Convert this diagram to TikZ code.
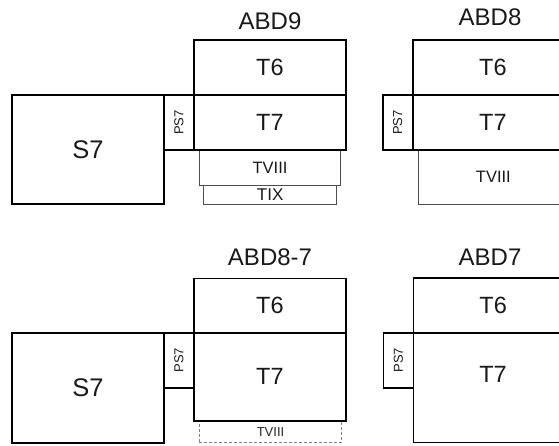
\documentclass[tikz,border=0pt]{standalone}
\usepackage{fontspec}
\setmainfont{Liberation Sans}
\begin{document}
\begin{tikzpicture}[x=1pt,y=-1pt,
  box/.style={draw=black, line width=1.6pt, inner sep=0pt, outer sep=0pt,
              font=\fontsize{23.5}{26}\selectfont, text=black!90},
  thinbox/.style={draw=black!70, line width=0.9pt, inner sep=0pt, outer sep=0pt,
              text=black!90},
  dashbox/.style={draw=black!50, line width=0.7pt, dash pattern=on 3pt off 2pt,
              inner sep=0pt, outer sep=0pt, text=black!85},
  psbox/.style={box, minimum width=30pt, minimum height=55pt,
              font=\fontsize{13}{15}\selectfont},
  title/.style={inner sep=0pt, font=\fontsize{24}{27}\selectfont, text=black!90},
  bigS/.style={font=\fontsize{25.5}{28}\selectfont}]
\useasboundingbox (0,0) rectangle (559,445);
\clip (0,0) rectangle (559,445);

% ---- ABD9 ----
\node[title] (abd9) at (270,21) {ABD9};
\node[thinbox, minimum width=133pt, minimum height=19pt,
      font=\fontsize{17}{19}\selectfont] (t9a) at (270.2,194.5) {TIX};
\node[thinbox, minimum width=141.4pt, minimum height=35pt,
      font=\fontsize{16.5}{18}\selectfont] (t8a) at (270,167.5) {TVIII};
\node[box, bigS, minimum width=152pt, minimum height=109pt] (s7a) at (88,149.5) {S7};
\node[psbox] (ps7a) at (179,122.5) {\rotatebox{90}{PS7}};
\node[box, minimum width=151.7pt, minimum height=55pt] (t6a) at (269.85,67.5) {T6};
\node[box, minimum width=151.7pt, minimum height=55pt] (t7a) at (269.85,122.5) {T7};

% ---- ABD8 ----
\node[title] (abd8) at (490,17) {ABD8};
\node[thinbox, minimum width=149.3pt, minimum height=54pt,
      font=\fontsize{16.5}{18}\selectfont] (t8b) at (493.35,177) {TVIII};
\node[psbox] (ps7b) at (397.7,122.5) {\rotatebox{90}{PS7}};
\node[box, minimum width=160.3pt, minimum height=55pt] (t6b) at (492.85,67.5) {T6};
\node[box, minimum width=160.3pt, minimum height=55pt] (t7b) at (492.85,122.5) {T7};

% ---- ABD8-7 ----
\node[title] (abd87) at (270,257) {ABD8-7};
\node[dashbox, minimum width=142.4pt, minimum height=22pt,
      font=\fontsize{13}{15}\selectfont] (t8c) at (270.5,431.7) {TVIII};
\node[box, bigS, minimum width=152pt, minimum height=110pt] (s7c) at (88,387.7) {S7};
\node[psbox] (ps7c) at (179,360.2) {\rotatebox{90}{PS7}};
\node[box, minimum width=151.7pt, minimum height=54.4pt] (t6c) at (269.85,305.5) {T6};
\node[box, minimum width=151.7pt, minimum height=88pt] (t7c) at (269.85,376.7) {T7};

% ---- ABD7 ----
\node[title] (abd7) at (490,257) {ABD7};
\node[psbox] (ps7d) at (398.3,360.2) {\rotatebox{90}{PS7}};
\node[box, minimum width=159.7pt, minimum height=55pt] (t6d) at (493.15,305.2) {T6};
\node[box, minimum width=159.7pt, minimum height=109.6pt] (t7d) at (493.15,387.5) {};
\node[box, draw=none, inner sep=0pt] (t7dlab) at (493,374) {T7};
\end{tikzpicture}
\end{document}
